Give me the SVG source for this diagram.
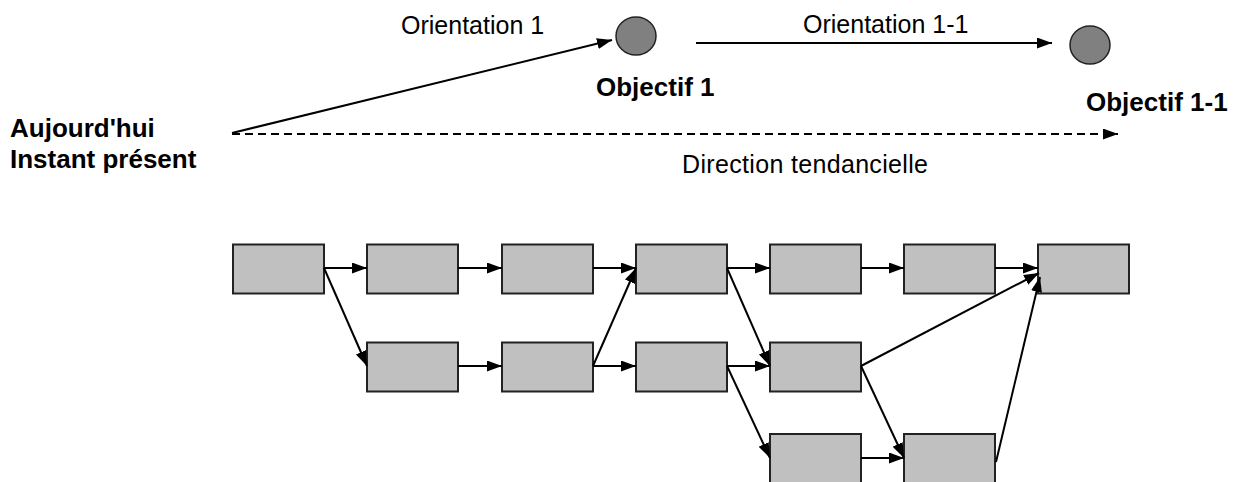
<svg xmlns="http://www.w3.org/2000/svg" width="1234" height="482" viewBox="0 0 1234 482">
<style>
.box{fill:#c0c0c0;stroke:#222;stroke-width:2}
.obj{fill:#808080;stroke:#222;stroke-width:1.5}
.ln{stroke:#000;stroke-width:2;fill:none;marker-end:url(#ah)}
.dash{stroke-dasharray:8 5}
.t{font-family:"Liberation Sans",Arial,sans-serif;font-size:25px;fill:#000}
.b{font-family:"Liberation Sans",Arial,sans-serif;font-size:26px;font-weight:bold;fill:#000}
</style>
<defs>
<marker id="ah" markerUnits="userSpaceOnUse" markerWidth="16" markerHeight="12" refX="15" refY="5.5" orient="auto">
<path d="M0,0 L15,5.5 L0,11 z" fill="#000"/>
</marker>
</defs>
<rect width="1234" height="482" fill="#fff"/>
<g id="today">
<text class="b" x="10" y="137">Aujourd'hui</text>
<text class="b" x="10" y="168">Instant présent</text>
</g>
<g id="objectif1">
<ellipse class="obj" cx="636" cy="36" rx="20" ry="19"/>
<text class="b" x="596" y="96">Objectif 1</text>
</g>
<g id="objectif11">
<ellipse class="obj" cx="1090" cy="45" rx="20" ry="19"/>
<text class="b" x="1086" y="111">Objectif 1-1</text>
</g>
<g id="labels">
<text class="t" x="401" y="34">Orientation 1</text>
<text class="t" x="803" y="33">Orientation 1-1</text>
<text class="t" x="682" y="173" textLength="246">Direction tendancielle</text>
</g>
<g id="n1"><rect class="box" x="233" y="244.5" width="91" height="49"/></g>
<g id="n2"><rect class="box" x="367" y="244.5" width="91" height="49"/></g>
<g id="n3"><rect class="box" x="502" y="244.5" width="91" height="49"/></g>
<g id="n4"><rect class="box" x="636" y="244.5" width="91" height="49"/></g>
<g id="n5"><rect class="box" x="770" y="244.5" width="91" height="49"/></g>
<g id="n6"><rect class="box" x="904" y="244.5" width="91" height="49"/></g>
<g id="n7"><rect class="box" x="1038" y="244.5" width="91" height="49"/></g>
<g id="m2"><rect class="box" x="367" y="342.5" width="91" height="49"/></g>
<g id="m3"><rect class="box" x="502" y="342.5" width="91" height="49"/></g>
<g id="m4"><rect class="box" x="636" y="342.5" width="91" height="49"/></g>
<g id="m5"><rect class="box" x="770" y="342.5" width="91" height="49"/></g>
<g id="l5"><rect class="box" x="770" y="434" width="91" height="49"/></g>
<g id="l6"><rect class="box" x="904" y="434" width="91" height="49"/></g>
<g id="connectors">
<line class="ln" x1="232" y1="133" x2="612" y2="40"/>
<line class="ln" x1="696" y1="43" x2="1052" y2="43"/>
<line class="ln dash" x1="232" y1="134" x2="1118" y2="134"/>
<line class="ln" x1="324" y1="268" x2="367" y2="268"/>
<line class="ln" x1="324" y1="268" x2="367" y2="366"/>
<line class="ln" x1="458" y1="268" x2="502" y2="268"/>
<line class="ln" x1="593" y1="268" x2="636" y2="268"/>
<line class="ln" x1="458" y1="366" x2="502" y2="366"/>
<line class="ln" x1="593" y1="366" x2="636" y2="268"/>
<line class="ln" x1="593" y1="366" x2="636" y2="366"/>
<line class="ln" x1="727" y1="268" x2="770" y2="268"/>
<line class="ln" x1="727" y1="268" x2="770" y2="366"/>
<line class="ln" x1="727" y1="366" x2="770" y2="366"/>
<line class="ln" x1="727" y1="366" x2="770" y2="458"/>
<line class="ln" x1="861" y1="268" x2="904" y2="268"/>
<line class="ln" x1="995" y1="268" x2="1038" y2="268"/>
<line class="ln" x1="861" y1="366" x2="1039" y2="273"/>
<line class="ln" x1="861" y1="366" x2="904" y2="458"/>
<line class="ln" x1="861" y1="458" x2="904" y2="458"/>
<line class="ln" x1="996" y1="462" x2="1040" y2="277"/>
</g>
</svg>
